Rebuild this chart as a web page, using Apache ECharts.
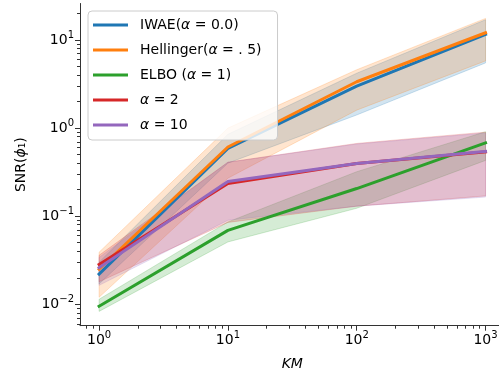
<!DOCTYPE html>
<html>
<head>
<meta charset="utf-8">
<script src="https://cdn.jsdelivr.net/npm/echarts@6/dist/echarts.min.js"></script>
<style>
  html, body { margin: 0; padding: 0; background: #fff; }
  #chart { width: 499px; height: 374px; }
</style>
</head>
<body>
<div id="chart"></div>
<script>
// x values (KM)
const km = [1, 10, 100, 1000];

// mean SNR and band edges
const iwae = [0.022, 0.59, 3.0, 11.6];
const iwaeLow = [0.017, 0.40, 1.41, 5.5];
const iwaeHigh = [0.030, 0.85, 4.2, 17.0];

const hellinger = [0.025, 0.61, 3.36, 12.1];
const hellingerLow = [0.012, 0.27, 1.6, 5.8];
const hellingerHigh = [0.039, 1.0, 4.6, 17.6];

const elbo = [0.0095, 0.069, 0.206, 0.68];
const elboLow = [0.0083, 0.051, 0.123, 0.43];
const elboHigh = [0.0114, 0.086, 0.32, 0.91];

const alpha2 = [0.0283, 0.235, 0.397, 0.538];
const alpha2Low = [0.018, 0.085, 0.13, 0.17];
const alpha2High = [0.036, 0.41, 0.67, 0.9];

const alpha10 = [0.026, 0.248, 0.397, 0.543];
const alpha10Low = [0.0164, 0.09, 0.13, 0.165];
const alpha10High = [0.034, 0.41, 0.66, 0.88];

// ticks
const xMajorTicks = [1, 10, 100, 1000];
const xMinorTicks = [0.8, 0.9, 2, 3, 4, 5, 6, 7, 8, 9, 20, 30, 40, 50, 60, 70, 80, 90,
  200, 300, 400, 500, 600, 700, 800, 900];
const yMajorTicks = [0.01, 0.1, 1, 10];
const yMinorTicks = [0.006, 0.007, 0.008, 0.009, 0.02, 0.03, 0.04, 0.05, 0.06, 0.07, 0.08, 0.09,
  0.2, 0.3, 0.4, 0.5, 0.6, 0.7, 0.8, 0.9, 2, 3, 4, 5, 6, 7, 8, 9, 20];

const X_MIN = 0.711, X_MAX = 1406;
const Y_MIN = 0.00571, Y_MAX = 26;

const FONT = 'DejaVu Sans';
const AXIS_COLOR = '#333';

const methods = [
  { name: 'IWAE(α = 0.0)', color: '#1f77b4', mean: iwae, low: iwaeLow, high: iwaeHigh },
  { name: 'Hellinger(α = . 5)', color: '#ff7f0e', mean: hellinger, low: hellingerLow, high: hellingerHigh },
  { name: 'ELBO (α = 1)', color: '#2ca02c', mean: elbo, low: elboLow, high: elboHigh },
  { name: 'α = 2', color: '#d62728', mean: alpha2, low: alpha2Low, high: alpha2High },
  { name: 'α = 10', color: '#9467bd', mean: alpha10, low: alpha10Low, high: alpha10High }
];

function hexToRgba(hex, a) {
  const n = parseInt(hex.slice(1), 16);
  return `rgba(${(n >> 16) & 255}, ${(n >> 8) & 255}, ${n & 255}, ${a})`;
}

function powLabel(v) {
  const e = Math.round(Math.log10(v));
  const s = e < 0 ? '\u2212' + (-e) : String(e);
  return '{b|10}{s|' + s + '}';
}

const labelRich = {
  b: { fontFamily: FONT, fontSize: 14, lineHeight: 20, color: '#000' },
  s: { fontFamily: FONT, fontSize: 10, lineHeight: 6, verticalAlign: 'top', color: '#000' }
};

const bandSeries = methods.map((m) => ({
  type: 'custom',
  coordinateSystem: 'cartesian2d',
  silent: true,
  z: 1,
  data: [[km[0], m.low[0]]],
  renderItem: (params, api) => {
    const pts = [];
    for (let i = 0; i < km.length; i++) pts.push(api.coord([km[i], m.high[i]]));
    for (let i = km.length - 1; i >= 0; i--) pts.push(api.coord([km[i], m.low[i]]));
    return {
      type: 'polygon',
      shape: { points: pts },
      style: { fill: hexToRgba(m.color, 0.2), stroke: hexToRgba(m.color, 0.2), lineWidth: 1 }
    };
  }
}));

const lineSeries = methods.map((m) => ({
  name: m.name,
  type: 'line',
  z: 2,
  showSymbol: false,
  symbol: 'none',
  color: m.color,
  lineStyle: { color: m.color, width: 3, cap: 'square', join: 'round' },
  data: km.map((k, i) => [k, m.mean[i]])
}));

const chart = echarts.init(document.getElementById('chart'));

chart.setOption({
  animation: false,
  backgroundColor: '#fff',
  textStyle: { fontFamily: FONT },
  grid: { left: 80, top: 3.5, width: 424.6, height: 322.2, containLabel: false, outerBoundsMode: 'none' },
  legend: {
    orient: 'vertical',
    left: 88,
    top: 11,
    padding: [5, 7, 6, 5],
    itemGap: 7,
    itemWidth: 35,
    itemHeight: 3,
    icon: 'rect',
    backgroundColor: 'rgba(255,255,255,0.8)',
    borderColor: '#cccccc',
    borderWidth: 1,
    borderRadius: 4,
    data: methods.map((m) => m.name),
    formatter: (name) => name.replace(/α/g, '{i|α}'),
    textStyle: {
      fontFamily: FONT,
      fontSize: 14,
      lineHeight: 18,
      color: '#000',
      padding: [0, 9, 0, 7],
      rich: { i: { fontFamily: FONT, fontSize: 14, lineHeight: 18, fontStyle: 'italic', color: '#000' } }
    }
  },
  xAxis: [
    {
      type: 'log',
      min: X_MIN,
      max: X_MAX,
      position: 'bottom',
      name: 'KM',
      nameLocation: 'middle',
      nameGap: 32,
      nameTextStyle: { fontFamily: FONT, fontSize: 14, fontStyle: 'italic', color: '#000' },
      axisLine: { show: true, lineStyle: { color: AXIS_COLOR, width: 1 } },
      axisTick: { show: true, length: 5, customValues: xMajorTicks, lineStyle: { color: AXIS_COLOR } },
      axisLabel: { margin: 5, customValues: xMajorTicks, formatter: powLabel, rich: labelRich },
      splitLine: { show: false }
    },
    {
      type: 'log',
      min: X_MIN,
      max: X_MAX,
      position: 'bottom',
      axisLine: { show: false },
      axisTick: { show: true, length: 3, customValues: xMinorTicks, lineStyle: { color: AXIS_COLOR } },
      axisLabel: { show: false },
      splitLine: { show: false }
    }
  ],
  yAxis: [
    {
      type: 'log',
      min: Y_MIN,
      max: Y_MAX,
      position: 'left',
      name: 'SNR({i|ϕ}₁)',
      nameLocation: 'middle',
      nameGap: 52,
      nameTextStyle: {
        fontFamily: FONT, fontSize: 14, color: '#000',
        rich: { i: { fontFamily: FONT, fontSize: 14, fontStyle: 'italic', color: '#000' } }
      },
      axisLine: { show: true, lineStyle: { color: AXIS_COLOR, width: 1 } },
      axisTick: { show: true, length: 5, customValues: yMajorTicks, lineStyle: { color: AXIS_COLOR } },
      axisLabel: { margin: 6, customValues: yMajorTicks, formatter: powLabel, rich: labelRich },
      splitLine: { show: false }
    },
    {
      type: 'log',
      min: Y_MIN,
      max: Y_MAX,
      position: 'left',
      axisLine: { show: false },
      axisTick: { show: true, length: 3, customValues: yMinorTicks, lineStyle: { color: AXIS_COLOR } },
      axisLabel: { show: false },
      splitLine: { show: false }
    }
  ],
  series: [...bandSeries, ...lineSeries]
});
</script>
</body>
</html>
